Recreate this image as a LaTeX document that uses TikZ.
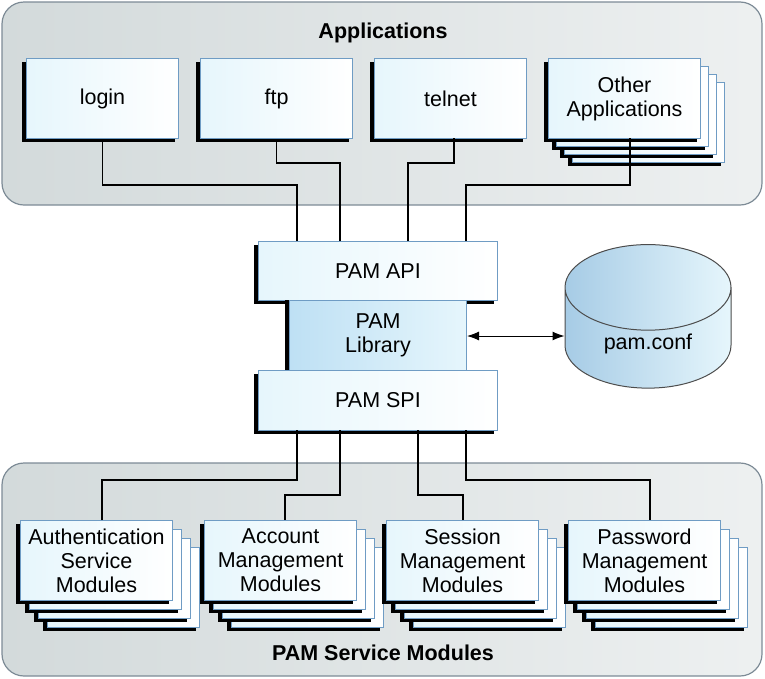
\documentclass[tikz,border=0pt]{standalone}
\usepackage{fontspec}
\setmainfont{Liberation Sans}
\usetikzlibrary{arrows.meta, positioning, shapes.geometric}

\definecolor{panelgray}{HTML}{D3DADB}
\definecolor{panelline}{HTML}{7D8B96}
\definecolor{boxfill}{HTML}{E6F6FC}
\definecolor{boxline}{HTML}{6F9CC4}
\definecolor{libfill}{HTML}{BEE0F4}

\begin{document}
\begin{tikzpicture}[x=1pt, y=-1pt,
  panel/.style={draw=panelline, line width=1.2pt, rounded corners=22pt, left color=panelgray, right color=white!60!panelgray},
  appbox/.style={draw=boxline, line width=1pt, left color=boxfill, right color=white, minimum width=152pt, minimum height=80pt, inner sep=0pt, font=\fontsize{21.5}{24}\selectfont, align=center},
  layer/.style={appbox, anchor=north west},
  shadow/.style={fill=black},
  wire/.style={draw, line width=1.1pt},
  title/.style={font=\fontsize{21.5}{24}\selectfont\bfseries}
]
\useasboundingbox (0,0) rectangle (765,678);

% Panels
\path[panel] (2,2) rectangle (762,205);
\path[panel] (2,463) rectangle (762,676);
\node[title] (apptitle) at (383,33) {Applications};
\node[title] (modtitle) at (383,653) {PAM Service Modules};

% Application boxes
\foreach \x/\name/\txt in {26/login/login, 200/ftp/ftp, 374/telnet/telnet}{
  \fill[shadow] (\x-4,62) rectangle (\x+149,142);
  \node[layer] (\name) at (\x,58) {\txt};
}
% Other applications (stacked)
\foreach \d in {24,16,8}{
  \fill[shadow] (548+\d-4,58+\d+4) rectangle (548+\d+149,58+\d+84);
  \node[layer] at (548+\d,58+\d) {};
}
\fill[shadow] (544,62) rectangle (697,142);
\node[layer] (other) at (548,58) {Other\\Applications};

% Module boxes (stacked)
\foreach \x/\name/\txt in {20/auth/{Authentication\\Service\\Modules}, 204/acct/{Account\\Management\\Modules}, 386/sess/{Session\\Management\\Modules}, 568/pass/{Password\\Management\\Modules}}{
  \foreach \d in {27,18,9}{
    \fill[shadow] (\x+\d-4,520+\d+4) rectangle (\x+\d+149,520+\d+84);
    \node[layer] at (\x+\d,520+\d) {};
  }
  \fill[shadow] (\x-4,524) rectangle (\x+149,604);
  \node[layer] (\name) at (\x,520) {\txt};
}

% PAM core
\fill[shadow] (254,245) rectangle (494,304);
\node[layer, minimum width=239pt, minimum height=59pt] (api) at (258,241) {PAM API};
\fill[shadow] (254,374) rectangle (494,434);
\node[layer, minimum width=239pt, minimum height=60pt] (spi) at (258,370) {PAM SPI};
\fill[shadow] (285,300) rectangle (463,370);
\node[layer, minimum width=177pt, minimum height=70pt, left color=libfill, right color=boxfill] (lib) at (289,300) {PAM\\Library};

% pam.conf cylinder
\node[cylinder, shape border rotate=90, aspect=0.9, draw=black!70, line width=1pt,
  minimum width=166pt, minimum height=88pt, left color=libfill!70!boxline, right color=boxfill,
  font=\fontsize{21.5}{24}\selectfont] (conf) at (648,344) {\raisebox{-14pt}{pam.conf}};

% Wires
\draw[wire] (login.south) |- (297,185) -- (297,241);
\draw[wire] (ftp.south) |- (340,163) -- (340,241);
\draw[wire] (454,138) |- (408,163) -- (408,241);
\draw[wire] (630,138) |- (466,185) -- (466,241);

\draw[wire] (297,430) |- (102,480) -- (102,520);
\draw[wire] (340,430) |- (285,495) -- (285,520);
\draw[wire] (418,430) |- (463,495) -- (463,520);
\draw[wire] (466,430) |- (650,480) -- (650,520);

\draw[line width=1pt, {Latex[length=12pt,width=9pt]}-{Latex[length=12pt,width=9pt]}] (lib.east |- 0,336) -- (conf.west |- 0,336);
\end{tikzpicture}
\end{document}
